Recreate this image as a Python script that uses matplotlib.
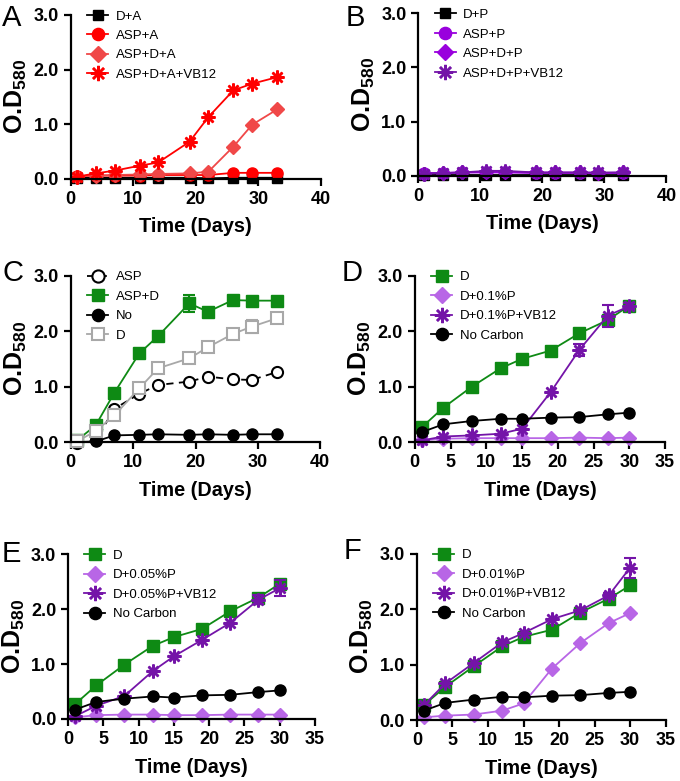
import matplotlib
matplotlib.use("Agg")
import matplotlib.pyplot as plt
from matplotlib.ticker import FormatStrFormatter

plt.rcParams['font.family'] = ['Liberation Sans', 'DejaVu Sans']
plt.rcParams['mathtext.fontset'] = 'custom'
plt.rcParams['mathtext.rm'] = 'Liberation Sans'
plt.rcParams['mathtext.bf'] = 'Liberation Sans:bold'

# ---- data ----
days_abc = [1, 4, 7, 11, 14, 19, 22, 26, 29, 33]
days_def = [1, 4, 8, 12, 15, 19, 23, 27, 30]

# A
a_d_a = [0.02, 0.02, 0.02, 0.02, 0.02, 0.02, 0.01, 0.02, 0.02, 0.02]
a_asp_a = [0.05, 0.06, 0.06, 0.06, 0.07, 0.07, 0.07, 0.11, 0.11, 0.11]
a_asp_d_a = [0.04, 0.06, 0.07, 0.08, 0.09, 0.10, 0.13, 0.59, 0.99, 1.27]
a_asp_d_a_vb12 = [0.04, 0.10, 0.15, 0.24, 0.30, 0.68, 1.13, 1.62, 1.74, 1.86]

# B
b_d_p = [0.02, 0.02, 0.02, 0.02, 0.02, 0.02, 0.02, 0.02, 0.02, 0.02]
b_asp_p = [0.05, 0.05, 0.06, 0.06, 0.06, 0.05, 0.05, 0.05, 0.05, 0.05]
b_asp_d_p = [0.04, 0.05, 0.06, 0.07, 0.07, 0.06, 0.06, 0.06, 0.05, 0.06]
b_asp_d_p_vb12 = [0.04, 0.05, 0.06, 0.09, 0.09, 0.06, 0.06, 0.06, 0.06, 0.06]

# C
c_asp = [-0.02, 0.03, 0.60, 0.87, 1.03, 1.09, 1.18, 1.13, 1.12, 1.26]
c_asp_d = [0.03, 0.30, 0.89, 1.60, 1.91, 2.50, 2.35, 2.56, 2.55, 2.55]
c_asp_d_err = [0, 0, 0, 0, 0, 0.15, 0, 0.05, 0, 0]
c_no = [0.00, 0.01, 0.12, 0.13, 0.14, 0.13, 0.14, 0.13, 0.14, 0.14]
c_d = [0.01, 0.20, 0.48, 0.97, 1.33, 1.51, 1.71, 1.95, 2.08, 2.23]
c_d_err = [0, 0, 0, 0, 0, 0, 0, 0, 0.12, 0.05]

# D
d_d = [0.27, 0.62, 1.00, 1.33, 1.50, 1.65, 1.96, 2.20, 2.46]
d_p = [0.03, 0.06, 0.07, 0.07, 0.07, 0.07, 0.08, 0.07, 0.08]
d_p_vb12 = [0.03, 0.10, 0.12, 0.15, 0.24, 0.90, 1.66, 2.28, 2.45]
d_p_vb12_err = [0, 0, 0, 0, 0, 0, 0.10, 0.20, 0.05]
d_noc = [0.18, 0.32, 0.38, 0.42, 0.42, 0.44, 0.45, 0.50, 0.53]

# E
e_d = [0.27, 0.61, 0.99, 1.33, 1.49, 1.64, 1.96, 2.21, 2.46]
e_p = [0.03, 0.07, 0.08, 0.08, 0.07, 0.07, 0.08, 0.08, 0.08]
e_p_vb12 = [0.05, 0.24, 0.42, 0.87, 1.14, 1.44, 1.75, 2.17, 2.38]
e_p_vb12_err = [0, 0, 0, 0, 0, 0, 0, 0.08, 0.15]
e_noc = [0.17, 0.31, 0.37, 0.41, 0.39, 0.43, 0.44, 0.49, 0.52]

# F
f_d = [0.27, 0.60, 0.97, 1.33, 1.50, 1.63, 1.94, 2.19, 2.43]
f_p = [0.05, 0.08, 0.10, 0.17, 0.30, 0.93, 1.39, 1.75, 1.93]
f_p_vb12 = [0.27, 0.66, 1.03, 1.40, 1.57, 1.82, 1.98, 2.25, 2.75]
f_p_vb12_err = [0, 0, 0, 0, 0, 0, 0, 0.05, 0.18]
f_noc = [0.17, 0.31, 0.37, 0.42, 0.41, 0.44, 0.45, 0.49, 0.51]

RED = '#ff0000'
LRED = '#f04848'
VIOLET = '#9900dd'
GREEN = '#0e8a14'
LAV = '#b866e6'
PURPLE = '#7414a8'
GRAY = '#a8a8a8'
STAR = (8, 2, 0)


def series(ax, x, y, label, color, marker, ms=8, mfc=None, ls='-', err=None, mew=1.0):
    if err is not None:
        ax.errorbar(x, y, yerr=err, fmt='none', ecolor=color, capsize=4,
                    elinewidth=1.5, capthick=1.5, clip_on=False)
    ax.plot(x, y, label=label, color=color, marker=marker, markersize=ms,
            markerfacecolor=mfc or color, markeredgecolor=color,
            markeredgewidth=mew, linestyle=ls, linewidth=1.3, clip_on=False)


def style(ax, xmax, xstep, letter, lx, ly):
    ax.set_xlim(0, xmax)
    ax.set_ylim(0, 3.0)
    ax.set_xticks(range(0, xmax + 1, xstep))
    ax.set_yticks([0, 1, 2, 3])
    ax.yaxis.set_major_formatter(FormatStrFormatter('%.1f'))
    for s in ['top', 'right']:
        ax.spines[s].set_visible(False)
    for s in ['left', 'bottom']:
        ax.spines[s].set_linewidth(1.6)
    ax.tick_params(direction='out', length=5, width=1.6, labelsize=13)
    for t in ax.get_xticklabels() + ax.get_yticklabels():
        t.set_fontweight('bold')
    ax.set_xlabel('Time (Days)', fontsize=14.3, fontweight='bold', labelpad=7)
    ax.set_ylabel(r'O.D$_{\mathregular{580}}$', fontsize=18, fontweight='bold', labelpad=3)
    ax.legend(loc='upper left', bbox_to_anchor=(0.045, 1.06), frameon=False,
              fontsize=9.5, handlelength=1.6, handletextpad=0.55, labelspacing=0.55,
              markerscale=1.1, borderaxespad=0)
    fig.text(lx, ly, letter, fontsize=21, va='top', ha='left')


fig = plt.figure(figsize=(6.8, 7.81), dpi=100)
axA = fig.add_axes([0.104, 0.771, 0.368, 0.210])
axB = fig.add_axes([0.615, 0.775, 0.365, 0.208])
axC = fig.add_axes([0.104, 0.434, 0.367, 0.213])
axD = fig.add_axes([0.610, 0.434, 0.368, 0.213])
axE = fig.add_axes([0.100, 0.0794, 0.363, 0.211])
axF = fig.add_axes([0.613, 0.078, 0.366, 0.213])

# A
series(axA, days_abc, a_d_a, 'D+A', 'black', 's', ms=7)
series(axA, days_abc, a_asp_a, 'ASP+A', RED, 'o', ms=8)
series(axA, days_abc, a_asp_d_a, 'ASP+D+A', LRED, 'D', ms=7.5)
series(axA, days_abc, a_asp_d_a_vb12, 'ASP+D+A+VB12', RED, STAR, ms=10, mew=1.8)
style(axA, 40, 10, 'A', 0.003, 0.995)

# B
series(axB, days_abc, b_d_p, 'D+P', 'black', 's', ms=7)
series(axB, days_abc, b_asp_p, 'ASP+P', VIOLET, 'o', ms=8)
series(axB, days_abc, b_asp_d_p, 'ASP+D+P', VIOLET, 'D', ms=7.5)
series(axB, days_abc, b_asp_d_p_vb12, 'ASP+D+P+VB12', PURPLE, STAR, ms=10, mew=1.8)
style(axB, 40, 10, 'B', 0.508, 0.995)

# C
series(axC, days_abc, c_asp, 'ASP', 'black', 'o', ms=8, mfc='white', ls=(0, (4, 3)), mew=1.5)
series(axC, days_abc, c_asp_d, 'ASP+D', GREEN, 's', ms=8, err=c_asp_d_err)
series(axC, days_abc, c_no, 'No', 'black', 'o', ms=8)
series(axC, days_abc, c_d, 'D', GRAY, 's', ms=8, mfc='white', err=c_d_err, mew=1.5)
style(axC, 40, 10, 'C', 0.003, 0.668)

# D
series(axD, days_def, d_d, 'D', GREEN, 's', ms=8)
series(axD, days_def, d_p, 'D+0.1%P', LAV, 'D', ms=7.5)
series(axD, days_def, d_p_vb12, 'D+0.1%P+VB12', PURPLE, STAR, ms=10, mew=1.8, err=d_p_vb12_err)
series(axD, days_def, d_noc, 'No Carbon', 'black', 'o', ms=8)
style(axD, 35, 5, 'D', 0.503, 0.668)

# E
series(axE, days_def, e_d, 'D', GREEN, 's', ms=8)
series(axE, days_def, e_p, 'D+0.05%P', LAV, 'D', ms=7.5)
series(axE, days_def, e_p_vb12, 'D+0.05%P+VB12', PURPLE, STAR, ms=10, mew=1.8, err=e_p_vb12_err)
series(axE, days_def, e_noc, 'No Carbon', 'black', 'o', ms=8)
style(axE, 35, 5, 'E', 0.003, 0.308)

# F
series(axF, days_def, f_d, 'D', GREEN, 's', ms=8)
series(axF, days_def, f_p, 'D+0.01%P', LAV, 'D', ms=7.5)
series(axF, days_def, f_p_vb12, 'D+0.01%P+VB12', PURPLE, STAR, ms=10, mew=1.8, err=f_p_vb12_err)
series(axF, days_def, f_noc, 'No Carbon', 'black', 'o', ms=8)
style(axF, 35, 5, 'F', 0.505, 0.312)

fig.savefig('out.png', dpi=100)
